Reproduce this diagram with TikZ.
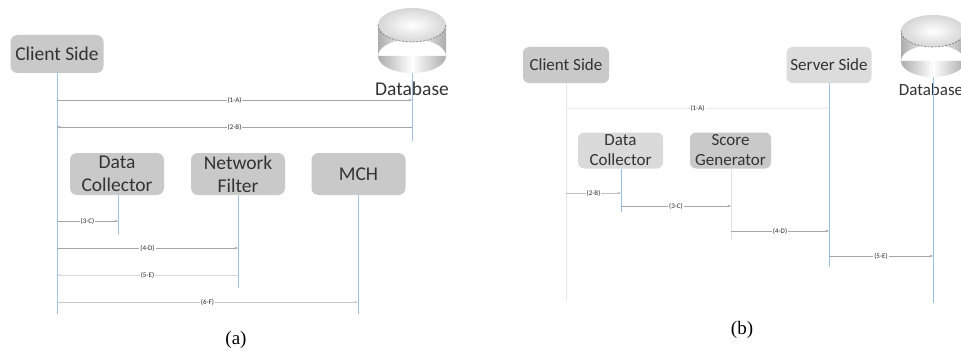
\documentclass[tikz,border=0pt]{standalone}
\usepackage{fontspec}
\setmainfont{Carlito}
\newfontfamily\capfont{Liberation Serif}
\usetikzlibrary{arrows.meta}
\definecolor{boxgray}{HTML}{C9C9C9}
\definecolor{boxlight}{HTML}{DADADA}
\definecolor{lifeblue}{HTML}{9EC0E2}
\definecolor{txtgray}{HTML}{333333}
\tikzset{
  boxa/.style={rectangle, rounded corners=7pt, fill=boxgray, text=txtgray, align=center,
    font=\fontsize{19.5}{23}\selectfont, minimum width=94pt, minimum height=42pt, inner sep=0pt},
  boxb/.style={rectangle, rounded corners=6pt, fill=boxgray, text=txtgray, align=center,
    font=\fontsize{17}{20}\selectfont, minimum width=85pt, minimum height=36pt, inner sep=0pt},
  life/.style={draw=lifeblue, line width=0.9pt},
  faintlife/.style={draw=black!10, line width=0.9pt},
  msg/.style={draw=black!35, line width=0.6pt, -{Stealth[length=3.5pt,width=2.6pt]}},
  faintmsg/.style={msg, draw=black!15},
  lbl/.style={fill=white, inner sep=1pt, text=black!85, font=\fontsize{7}{8}\selectfont},
  dblabel/.style={text=txtgray, inner sep=0pt},
  captext/.style={font=\capfont\fontsize{19}{22}\selectfont, inner sep=0pt}
}
\begin{document}
\begin{tikzpicture}[x=1pt,y=-1pt]
\clip (0,0) rectangle (961,353);
\fill[white] (0,0) rectangle (961,353);

% ---------- (a) ----------
\node[boxa, minimum width=93pt, minimum height=38pt] (csa) at (57,54) {Client Side};
\node[boxa] (dca) at (117,174) {Data\\Collector};
\node[boxa] (nfa) at (238,174) {Network\\Filter};
\node[boxa] (mcha) at (358.5,174) {MCH};

% database cylinder (a)
\shade[left color=black!32, right color=black!32, middle color=white]
  (378,25) rectangle (446,56) (412,56) ellipse [x radius=34, y radius=17];
\shade[inner color=white, outer color=black!16] (412,25) ellipse [x radius=34, y radius=17];
\begin{scope}
  \clip (376,25) rectangle (448,44);
  \draw[black!55, line width=0.6pt, dash pattern=on 2pt off 1.5pt] (412,25) ellipse [x radius=34, y radius=17];
\end{scope}
\coordinate (dbaB) at (412,73);
\node[dblabel, font=\fontsize{19.5}{23}\selectfont] (dbla) at (412,89) {Database};

% lifelines (a)
\coordinate (csaE) at (57,314);
\coordinate (dbaE) at (412,141);
\coordinate (dcaE) at (118,235);
\coordinate (nfaE) at (238,288);
\coordinate (mchaE) at (358,314);
\draw[life] (csa.south) -- (csaE);
\draw[life] (dbaB) -- (dbaE);
\draw[life] (dca.south -| dcaE) -- (dcaE);
\draw[life] (nfa.south) -- (nfaE);
\draw[life] (mcha.south -| mchaE) -- (mchaE);

% messages (a)
\coordinate (a1s) at (57,100);  \coordinate (a1e) at (412,100);
\coordinate (a2s) at (412,127); \coordinate (a2e) at (57,127);
\coordinate (a3s) at (57,221);  \coordinate (a3e) at (118,221);
\coordinate (a4s) at (57,248);  \coordinate (a4e) at (238,248);
\coordinate (a5s) at (238,275); \coordinate (a5e) at (57,275);
\coordinate (a6s) at (57,302);  \coordinate (a6e) at (358,302);
\draw[msg] (a1s) -- node[lbl] (l1a) {(1-A)} (a1e);
\draw[msg] (a2s) -- node[lbl] (l2a) {(2-B)} (a2e);
\draw[msg] (a3s) -- node[lbl] (l3a) {(3-C)} (a3e);
\draw[msg] (a4s) -- node[lbl] (l4a) {(4-D)} (a4e);
\draw[faintmsg] (a5s) -- node[lbl] (l5a) {(5-E)} (a5e);
\draw[msg, draw=black!22] (a6s) -- node[lbl] (l6a) {(6-F)} (a6e);

\node[captext] (capa) at (236,340) {(a)};

% ---------- (b) ----------
\node[boxb, minimum width=86pt] (csb) at (566,65) {Client Side};
\node[boxb, fill=boxlight!95!white] (svb) at (829,65) {Server Side};
\node[boxb, fill=boxlight] (dcb) at (620.5,150.5) {Data\\Collector};
\node[boxb, minimum width=81pt] (sgb) at (730.5,150.5) {Score\\Generator};

% database cylinder (b)
\shade[left color=black!32, right color=black!32, middle color=white]
  (901,31) rectangle (965,61) (933,61) ellipse [x radius=32, y radius=16];
\shade[inner color=white, outer color=black!16] (933,31) ellipse [x radius=32, y radius=16];
\begin{scope}
  \clip (899,31) rectangle (967,48);
  \draw[black!55, line width=0.6pt, dash pattern=on 2pt off 1.5pt] (933,31) ellipse [x radius=32, y radius=16];
\end{scope}
\coordinate (dbbB) at (933,77);
\node[dblabel, font=\fontsize{17}{20}\selectfont] (dblb) at (931,90) {Database};

% lifelines (b)
\coordinate (csbE) at (566,300);
\coordinate (svbE) at (829,267);
\coordinate (dcbE) at (621,212);
\coordinate (sgbE) at (731,240);
\coordinate (dbbE) at (933,303);
\draw[faintlife] (csb.south) -- (csbE);
\draw[life] (svb.south) -- (svbE);
\draw[life] (dcb.south -| dcbE) -- (dcbE);
\draw[faintlife, draw=black!12] (sgb.south -| sgbE) -- (sgbE);
\draw[life] (dbbB) -- (dbbE);

% messages (b)
\coordinate (b1s) at (566,108); \coordinate (b1e) at (829,108);
\coordinate (b2s) at (566,193); \coordinate (b2e) at (621,193);
\coordinate (b3s) at (621,206); \coordinate (b3e) at (731,206);
\coordinate (b4s) at (731,231); \coordinate (b4e) at (829,231);
\coordinate (b5s) at (829,256); \coordinate (b5e) at (933,256);
\draw[faintmsg, draw=black!8] (b1s) -- node[lbl] (l1b) {(1-A)} (b1e);
\draw[msg, draw=black!25] (b2s) -- node[lbl] (l2b) {(2-B)} (b2e);
\draw[msg] (b3s) -- node[lbl] (l3b) {(3-C)} (b3e);
\draw[msg] (b4s) -- node[lbl] (l4b) {(4-D)} (b4e);
\draw[msg] (b5s) -- node[lbl] (l5b) {(5-E)} (b5e);

\node[captext] (capb) at (742,330) {(b)};
\end{tikzpicture}
\end{document}
